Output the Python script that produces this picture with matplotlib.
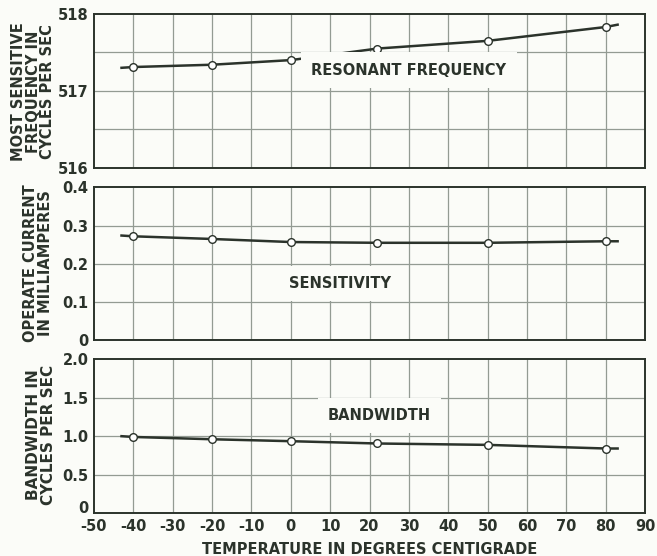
import matplotlib.pyplot as plt
import numpy as np

# temperatures where points were measured
temp = [-40, -20, 0, 22, 50, 80]
freq = [517.31, 517.34, 517.40, 517.55, 517.65, 517.83]
current = [0.272, 0.265, 0.257, 0.255, 0.255, 0.259]
bandwidth = [0.99, 0.96, 0.935, 0.905, 0.887, 0.84]

# line extends a little past the end points
line_x = [-43, 83]
freq_ends = [517.30, 517.86]
current_ends = [0.274, 0.259]
band_ends = [1.0, 0.84]

ink = '#2b332b'
gridc = '#939b93'
bg = '#fbfcf8'

plt.rcParams['font.family'] = ['DejaVu Sans']
plt.rcParams['font.weight'] = 'bold'

fig = plt.figure(figsize=(6.57, 5.56), dpi=100, facecolor=bg)

panels = [
    dict(rect=[0.143, 0.698, 0.839, 0.277], y=freq, ends=freq_ends, ylim=(516, 518),
         ygrid=np.arange(516, 518.01, 0.5), yticks=[516, 517, 518], yticklabels=['516', '517', '518'],
         label='RESONANT FREQUENCY', lpos=(30, 517.27)),
    dict(rect=[0.143, 0.388, 0.839, 0.275], y=current, ends=current_ends, ylim=(0, 0.4),
         ygrid=np.arange(0, 0.41, 0.1), yticks=[0, 0.1, 0.2, 0.3, 0.4],
         yticklabels=['0', '0.1', '0.2', '0.3', '0.4'],
         label='SENSITIVITY', lpos=(12.5, 0.149)),
    dict(rect=[0.143, 0.077, 0.839, 0.277], y=bandwidth, ends=band_ends, ylim=(0, 2.0),
         ygrid=np.arange(0, 2.01, 0.5), yticks=[0, 0.5, 1.0, 1.5, 2.0],
         yticklabels=['0', '0.5', '1.0', '1.5', '2.0'],
         label='BANDWIDTH', lpos=(22.5, 1.27)),
]

axes = []
for p in panels:
    ax = fig.add_axes(p['rect'])
    ax.set_facecolor(bg)
    ax.set_xlim(-50, 90)
    ax.set_ylim(*p['ylim'])
    for gx in range(-40, 90, 10):
        ax.axvline(gx, color=gridc, lw=0.9, zorder=1)
    for gy in p['ygrid'][1:-1]:
        ax.axhline(gy, color=gridc, lw=0.9, zorder=1)
    ax.set_yticks(p['yticks'])
    ax.set_yticklabels(p['yticklabels'], fontsize=10.5, color=ink)
    ax.set_xticks(np.arange(-50, 91, 10))
    ax.tick_params(length=0, pad=4)
    ax.tick_params(axis='x', labelbottom=False)
    for s in ax.spines.values():
        s.set_color(ink)
        s.set_linewidth(1.4)
    xs = [line_x[0]] + temp + [line_x[1]]
    ys = [p['ends'][0]] + p['y'] + [p['ends'][1]]
    ax.plot(xs, ys, color=ink, lw=1.8, zorder=3)
    ax.plot(temp, p['y'], 'o', ms=5.5, mfc='white', mec=ink, mew=1.0, zorder=4)
    ax.text(p['lpos'][0], p['lpos'][1], p['label'], fontsize=10.5, color=ink,
            ha='center', va='center', zorder=5,
            bbox=dict(boxstyle='square,pad=0.7', fc=bg, ec='none'))
    axes.append(ax)

# lift the bottom "0" a little so it clears the -50
axes[2].get_yticklabels()[0].set_va('baseline')

axes[2].tick_params(axis='x', labelbottom=True)
axes[2].set_xticklabels([str(v) for v in range(-50, 91, 10)], fontsize=10.5, color=ink)
axes[2].set_xlabel('TEMPERATURE IN DEGREES CENTIGRADE', fontsize=10.5, fontweight='bold',
                   color=ink, labelpad=6)

fig.text(33/657, 1-92/556, 'MOST SENSITIVE\nFREQUENCY IN\nCYCLES PER SEC', rotation=90,
         ha='center', va='center', fontsize=10.5, color=ink, linespacing=0.95)
fig.text(38/657, 1-263/556, 'OPERATE CURRENT\nIN MILLIAMPERES', rotation=90,
         ha='center', va='center', fontsize=10.5, color=ink, linespacing=0.95)
fig.text(41/657, 1-435/556, 'BANDWIDTH IN\nCYCLES PER SEC', rotation=90,
         ha='center', va='center', fontsize=11, color=ink, linespacing=0.95)

fig.savefig('out.png', dpi=100, facecolor=bg)
